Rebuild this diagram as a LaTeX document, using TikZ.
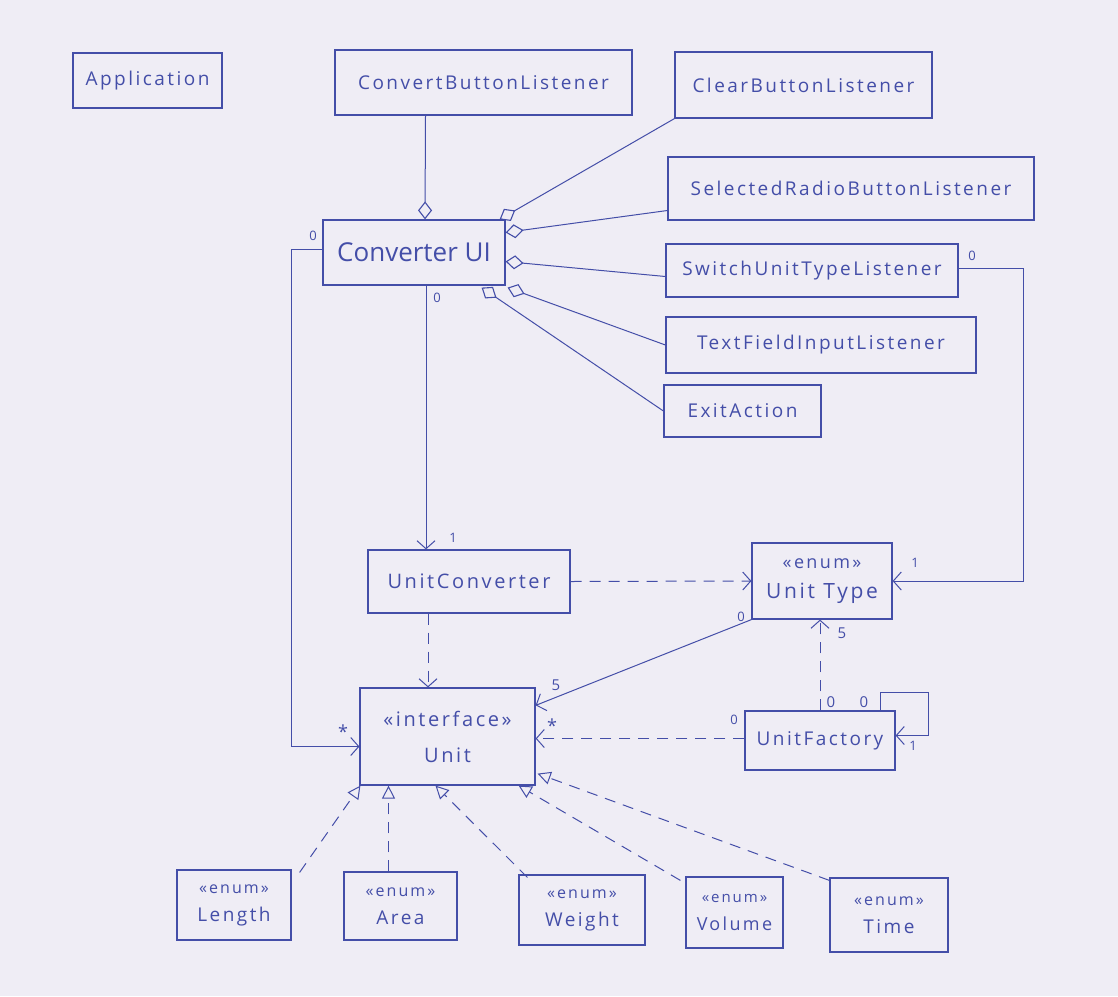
\documentclass[tikz,border=0pt]{standalone}
\usepackage{fontspec}
\setmainfont{Open Sans}
\newfontfamily\hand[LetterSpace=13]{Open Sans}
\usetikzlibrary{arrows.meta,calc}
\definecolor{ink}{RGB}{68,78,168}
\definecolor{paper}{RGB}{239,237,245}
\tikzset{
  box/.style={draw=ink, line width=1.2pt, inner sep=0pt, text=ink, align=center, font=\hand\fontsize{19}{22}\selectfont},
  con/.style={draw=ink, line width=1pt},
  dashline/.style={con, dash pattern=on 11pt off 8pt},
  agg/.style={con, -{Diamond[open, length=18pt, width=14pt, line width=1.1pt]}},
  assoc/.style={con, -{Straight Barb[length=8pt, width=18pt, line width=1pt]}},
  dep/.style={dashline, -{Straight Barb[length=8pt, width=18pt, line width=1pt]}},
  real/.style={dashline, -{Triangle[open, length=13pt, width=13pt, line width=1pt]}},
  lbl/.style={text=ink, inner sep=0pt, font=\fontsize{13}{13}\selectfont},
  st/.style={font=\hand\fontsize{16}{16}\selectfont},
}
\begin{document}
\begin{tikzpicture}[x=1pt,y=-1pt]
\useasboundingbox[fill=paper] (0,0) rectangle (1118,996);
% boxes
\node[box, minimum width=149pt, minimum height=55pt] (app) at (147.5,80.5) {Application};
\node[box, minimum width=297pt, minimum height=65pt] (cbl) at (483.5,82.5) {ConvertButtonListener};
\node[box, minimum width=257pt, minimum height=66pt] (clr) at (803.5,85) {ClearButtonListener};
\node[box, minimum width=366pt, minimum height=63pt] (srb) at (851,188.5) {SelectedRadioButtonListener};
\node[box, minimum width=182pt, minimum height=65pt, font=\fontsize{26}{28}\selectfont] (cui) at (414,252.5) {Converter UI};
\node[box, minimum width=292pt, minimum height=53pt] (sut) at (812,270.5) {SwitchUnitTypeListener};
\node[box, minimum width=310pt, minimum height=56pt] (tfi) at (821,345) {TextFieldInputListener};
\node[box, minimum width=157pt, minimum height=52pt] (exit) at (742.5,411) {ExitAction};
\node[box, minimum width=202pt, minimum height=63pt, font=\hand\fontsize{20}{23}\selectfont] (uc) at (469,581.5) {UnitConverter};
\node[box, minimum width=140pt, minimum height=76pt, font=\hand\fontsize{21}{30}\selectfont] (ut) at (822,581) {{\fontsize{18}{18}\selectfont «enum»}\\Unit Type};
\node[box, minimum width=175pt, minimum height=97pt, font=\hand\fontsize{20}{36}\selectfont] (unit) at (447.5,736.5) {«interface»\\Unit};
\node[box, minimum width=150pt, minimum height=59pt, font=\hand\fontsize{19}{23}\selectfont] (uf) at (820,740.5) {UnitFactory};
\node[box, minimum width=114pt, minimum height=70pt, font=\hand\fontsize{19}{28}\selectfont] (len) at (234,905) {{\fontsize{16}{16}\selectfont «enum»}\\Length};
\node[box, minimum width=113pt, minimum height=68pt, font=\hand\fontsize{19}{28}\selectfont] (area) at (400.5,906) {{\fontsize{16}{16}\selectfont «enum»}\\Area};
\node[box, minimum width=126pt, minimum height=70pt, font=\hand\fontsize{19}{28}\selectfont] (wt) at (582,910) {{\fontsize{16}{16}\selectfont «enum»}\\Weight};
\node[box, minimum width=97pt, minimum height=71pt, font=\hand\fontsize{18}{28}\selectfont] (vol) at (734.5,912.5) {{\fontsize{15}{15}\selectfont «enum»}\\Volume};
\node[box, minimum width=118pt, minimum height=74pt, font=\hand\fontsize{19}{28}\selectfont] (time) at (889,915) {{\fontsize{16}{16}\selectfont «enum»}\\Time};
% aggregations into Converter UI
\draw[agg] ([xshift=-58pt]cbl.south) -- ([xshift=11pt]cui.north);
\draw[agg] (clr.south west) -- ([xshift=-6pt]cui.north east);
\draw[agg] ([yshift=-22pt]srb.west) -- ([yshift=20pt]cui.east);
\draw[agg] ([yshift=-6pt]sut.west) -- ([yshift=-9pt]cui.east);
\draw[agg] (tfi.west) -- ([xshift=2pt,yshift=-2pt]cui.south east);
\draw[agg] (exit.west) -- ([xshift=-24pt,yshift=-2pt]cui.south east);
% associations
\draw[assoc] ([yshift=3pt]cui.west) -- ++(-31,0) |- ([yshift=-10pt]unit.west);
\draw[assoc] ([xshift=12pt]cui.south) -- ([xshift=12pt]cui.south |- uc.north);
\draw[assoc] ([yshift=2pt]sut.east) -- ++(65,0) |- (ut.east);
\draw[dep] (uc.east) -- (ut.west);
\draw[dep] ([xshift=-41pt]uc.south) -- ([xshift=-41pt]uc.south |- unit.north);
\draw[assoc] (ut.south west) -- ([yshift=-18pt]unit.north east);
\draw[dep] (uf.north) -- (uf.north |- ut.south);
\draw[dep] ([yshift=2pt]uf.west) -- ([yshift=2pt]uf.west -| unit.east);
\draw[assoc] ([xshift=60pt]uf.north) -- ++(0,-18) -- ++(48,0) |- ([yshift=5pt]uf.east);
% realizations
\draw[real] ([xshift=8pt,yshift=-3pt]len.north east) -- ([xshift=1pt]unit.south west);
\draw[real] ([xshift=-12pt]area.north) -- ([xshift=-12pt]area.north |- unit.south);
\draw[real] ([xshift=9pt,yshift=-3pt]wt.north west) -- ([xshift=-12pt]unit.south);
\draw[real] ([xshift=-5pt,yshift=-4pt]vol.north west) -- ([xshift=-17pt]unit.south east);
\draw[real] ([yshift=-3pt]time.north west) -- ([xshift=2pt,yshift=12pt]unit.south east);
% multiplicities
\node[lbl] (m1) at (313,236) {0};
\node[lbl] (m2) at (437,298) {0};
\node[lbl] (m3) at (453,538) {1};
\node[lbl, font=\fontsize{18}{18}\selectfont] (m4) at (343,732) {*};
\node[lbl] (m5) at (972,256) {0};
\node[lbl] (m6) at (915,563) {1};
\node[lbl] (m7) at (741,617) {0};
\node[lbl, font=\fontsize{15}{15}\selectfont] (m8) at (556,685) {5};
\node[lbl, font=\fontsize{15}{15}\selectfont] (m9) at (842,633) {5};
\node[lbl, font=\fontsize{18}{18}\selectfont] (m10) at (552,726) {*};
\node[lbl] (m11) at (734,720) {0};
\node[lbl, font=\fontsize{15}{15}\selectfont] (m12) at (831,702) {0};
\node[lbl, font=\fontsize{15}{15}\selectfont] (m13) at (864,702) {0};
\node[lbl] (m14) at (913,746) {1};
\end{tikzpicture}
\end{document}
